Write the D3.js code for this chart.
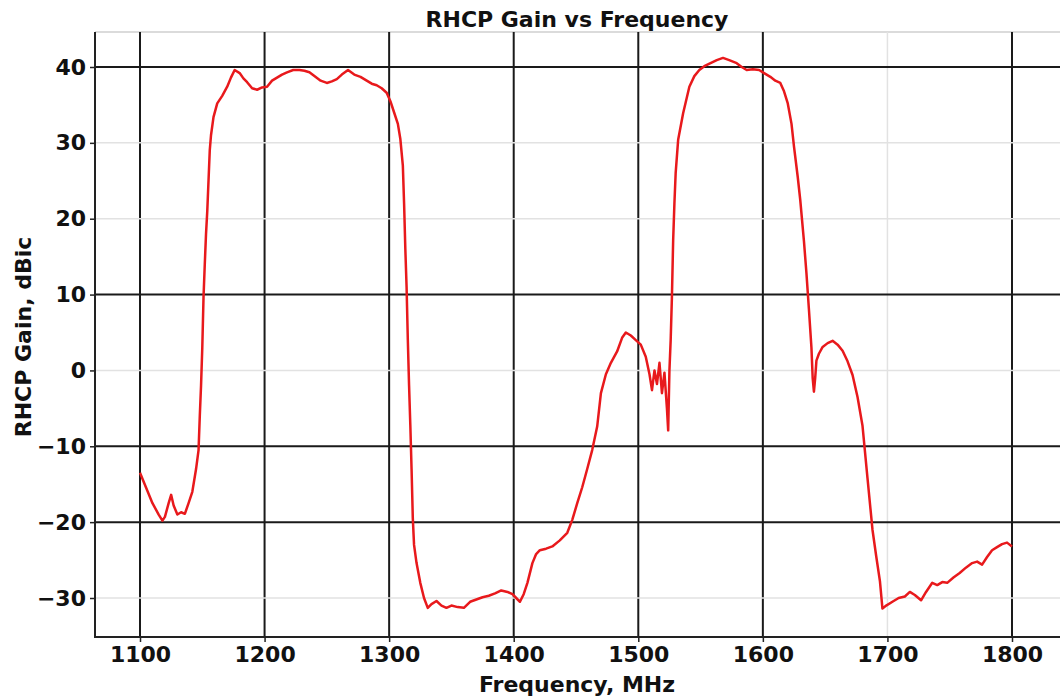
<!DOCTYPE html>
<html>
<head>
<meta charset="utf-8">
<script src="https://cdn.jsdelivr.net/npm/d3@7"></script>
<style>
  html, body { margin: 0; padding: 0; background: #fff; }
  svg { display: block; }
  text { font-family: "DejaVu Sans", sans-serif; fill: #111; }
</style>
</head>
<body>
<svg id="chart" width="1060" height="698"></svg>
<script>
// ---- data ----
const freqMHz = [
  1100,1105,1110,1115,1118,1120,1123,1125,1127,1130,1133,1136,1139,1142,1145,1147,1148,1149,1150,1151,
  1152,1153,1154,1155,1156,1157,1159,1162,1166,1170,1173,1176,1180,1183,1186,1190,1194,1198,1202,1206,
  1210,1214,1218,1223,1228,1232,1236,1240,1245,1250,1254,1258,1262,1267,1272,1277,1282,1286,1290,1294,
  1298,1301,1304,1307,1309,1311,1312,1313,1314,1315,1316,1317,1318,1319,1320,1322,1325,1328,1331,1334,
  1338,1342,1346,1350,1355,1360,1365,1370,1375,1380,1385,1390,1395,1399,1402,1405,1408,1411,1415,1418,
  1421,1426,1431,1437,1443,1447,1451,1455,1459,1463,1467,1470,1474,1478,1483,1487,1490,1494,1498,1502,
  1506,1509,1511,1513,1515,1517,1519,1521,1523,1524,1525,1526,1527,1528,1529,1530,1532,1536,1541,1545,
  1549,1553,1558,1563,1568,1573,1579,1583,1587,1592,1597,1601,1606,1610,1614,1617,1620,1623,1625,1628,
  1630,1633,1635,1637,1639,1640,1641,1642,1643,1645,1648,1652,1656,1660,1664,1668,1672,1676,1680,1684,
  1688,1691,1694,1696,1699,1704,1709,1714,1718,1722,1727,1731,1736,1740,1744,1748,1753,1758,1763,1768,
  1772,1776,1780,1784,1788,1792,1796,1800
];
const gainDBic = [
  -13.5,-15.5,-17.5,-19,-19.8,-19.3,-17.5,-16.4,-17.8,-19,-18.7,-18.9,-17.5,-16,-13,-10.5,-6,-2,3,9.7,
  14,18,21,25,29,31,33.4,35.2,36.2,37.4,38.6,39.6,39.2,38.5,38,37.2,37,37.3,37.4,38.2,
  38.6,39,39.3,39.6,39.6,39.5,39.3,38.8,38.2,37.9,38.1,38.4,39,39.6,39,38.7,38.2,37.8,37.6,37.2,
  36.6,35.5,34,32.5,30.5,27,22,16,11,4,-2,-7.2,-13,-19.5,-23,-25.4,-28,-30,-31.3,-30.8,
  -30.4,-31,-31.3,-31,-31.2,-31.3,-30.5,-30.2,-29.9,-29.7,-29.4,-29,-29.2,-29.5,-30,-30.5,-29.5,-28,-25.4,-24.2,
  -23.7,-23.5,-23.2,-22.4,-21.4,-19.7,-17.5,-15.4,-13,-10.5,-7.4,-3,-0.5,1,2.5,4.3,5,4.6,4,3.4,
  1.8,-0.5,-2.6,0,-1.8,1,-3,-0.3,-5,-7.9,0,4,9.7,17.2,22,26,30.4,33.9,37.4,38.8,
  39.6,40.1,40.5,40.9,41.2,40.9,40.5,40,39.6,39.7,39.6,39.2,38.7,38.2,37.9,36.8,35.2,32.5,29.5,25.5,
  22.5,17,12.8,8,3,-1,-2.8,-1,1.3,2.2,3.1,3.6,3.9,3.4,2.6,1.2,-0.6,-3.5,-7.3,-14.2,
  -21,-24.5,-27.8,-31.4,-31,-30.5,-30,-29.8,-29.2,-29.6,-30.3,-29.2,-28,-28.3,-27.9,-28,-27.3,-26.7,-26,-25.4,
  -25.2,-25.6,-24.6,-23.7,-23.3,-22.9,-22.7,-23.2
];
const xTicks = [1100, 1200, 1300, 1400, 1500, 1600, 1700, 1800];
const yTicks = [-30, -20, -10, 0, 10, 20, 30, 40];
const titleText = "RHCP Gain vs Frequency";
const xLabelText = "Frequency, MHz";
const yLabelText = "RHCP Gain, dBic";

(function draw() {
  const W = 1060, H = 698;
  const pLeft = 95, pTop = 32, pBottom = 637, pRight = 1075;
  const svg = d3.select("#chart");
  svg.append("rect").attr("width", W).attr("height", H).attr("fill", "#fff");

  const x = d3.scaleLinear().domain([1100, 1800]).range([140, 1012]);
  const y = d3.scaleLinear().domain([-30, 40]).range([598, 67]);

  const darkX = new Set([1100, 1200, 1300, 1400, 1500, 1600, 1800]);
  const darkY = new Set([40, 10, -10, -20]);

  svg.append("line").attr("x1", pLeft).attr("x2", pRight).attr("y1", pTop).attr("y2", pTop)
    .attr("stroke", "#cfcfcf").attr("stroke-width", 1.5);

  const grid = svg.append("g");
  grid.selectAll("line.gx").data(xTicks).join("line")
    .attr("class", "gx")
    .attr("x1", d => x(d)).attr("x2", d => x(d))
    .attr("y1", pTop).attr("y2", pBottom)
    .attr("stroke", d => darkX.has(d) ? "#1a1a1a" : "#e2e2e2")
    .attr("stroke-width", d => darkX.has(d) ? 2 : 1.5);
  grid.selectAll("line.gy").data(yTicks).join("line")
    .attr("class", "gy")
    .attr("x1", pLeft).attr("x2", pRight)
    .attr("y1", d => y(d)).attr("y2", d => y(d))
    .attr("stroke", d => darkY.has(d) ? "#1a1a1a" : "#e2e2e2")
    .attr("stroke-width", d => darkY.has(d) ? 2 : 1.5);

  const pts = freqMHz.map((f, i) => [f, gainDBic[i]]);
  svg.append("path")
    .datum(pts)
    .attr("fill", "none")
    .attr("stroke", "#e8191c")
    .attr("stroke-width", 2.5)
    .attr("stroke-linejoin", "round")
    .attr("d", d3.line().x(d => x(d[0])).y(d => y(d[1])));

  const fmt = d => d < 0 ? "\u2212" + Math.abs(d) : String(d);
  const yAxis = svg.append("g").attr("transform", `translate(${pLeft},0)`)
    .call(d3.axisLeft(y).tickValues(yTicks).tickSize(5).tickPadding(4).tickFormat(fmt));
  yAxis.select(".domain").remove();
  yAxis.selectAll(".tick line").attr("stroke", "#222").attr("stroke-width", 1.5);
  yAxis.selectAll(".tick text").attr("font-size", 22).attr("font-weight", "bold")
    .attr("font-family", "DejaVu Sans").attr("fill", "#111");

  const xAxis = svg.append("g").attr("transform", `translate(0,${pBottom})`)
    .call(d3.axisBottom(x).tickValues(xTicks).tickSize(5).tickPadding(4).tickFormat(d => String(d)));
  xAxis.select(".domain").remove();
  xAxis.selectAll(".tick line").attr("stroke", "#222").attr("stroke-width", 1.5);
  xAxis.selectAll(".tick text").attr("font-size", 22).attr("font-weight", "bold")
    .attr("font-family", "DejaVu Sans").attr("fill", "#111");

  svg.append("line").attr("x1", pLeft).attr("x2", pLeft).attr("y1", pTop).attr("y2", pBottom + 1)
    .attr("stroke", "#222").attr("stroke-width", 2);
  svg.append("line").attr("x1", pLeft - 1).attr("x2", pRight).attr("y1", pBottom).attr("y2", pBottom)
    .attr("stroke", "#222").attr("stroke-width", 2);

  svg.append("text").attr("x", 577).attr("y", 27).attr("text-anchor", "middle")
    .attr("font-size", 22).attr("font-weight", "bold").text(titleText);
  svg.append("text").attr("x", 577).attr("y", 692).attr("text-anchor", "middle")
    .attr("font-size", 22).attr("font-weight", "bold").text(xLabelText);
  svg.append("text").attr("transform", "translate(31,337) rotate(-90)").attr("text-anchor", "middle")
    .attr("font-size", 22).attr("font-weight", "bold").text(yLabelText);
})();
</script>
</body>
</html>
